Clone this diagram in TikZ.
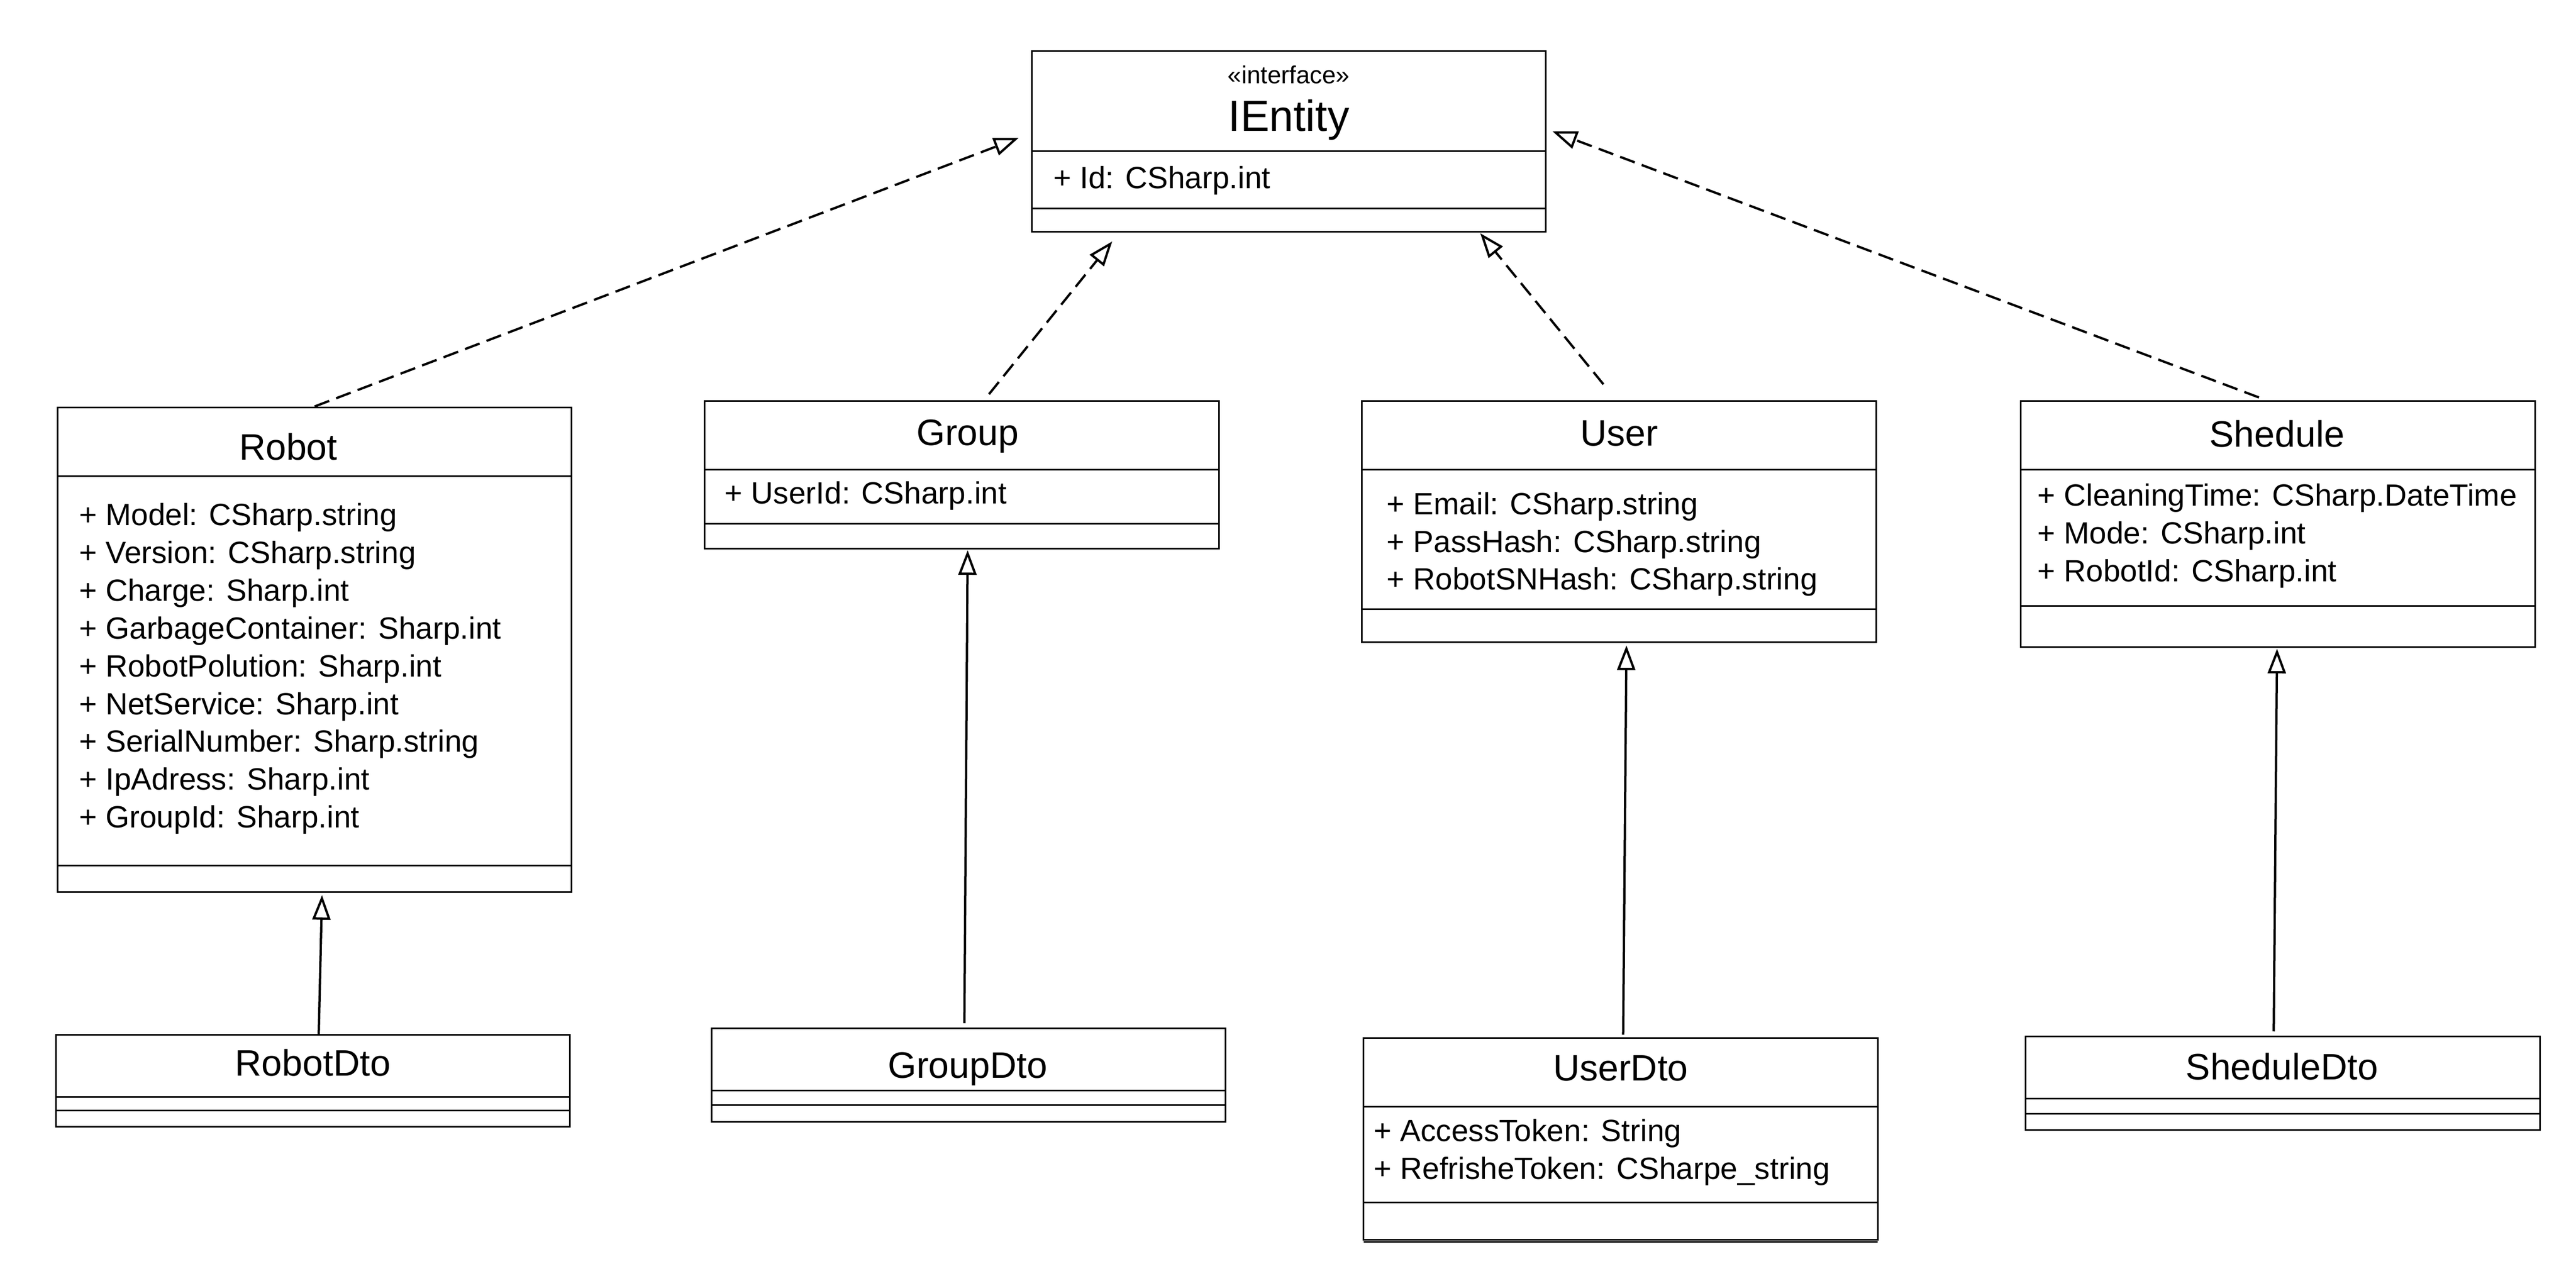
\documentclass[tikz,border=0pt]{standalone}
\usepackage{fontspec}
\setmainfont{Liberation Sans}
\usetikzlibrary{arrows.meta}
\tikzset{
  classframe/.style={draw, rectangle, line width=1pt, inner sep=0pt},
  divline/.style={line width=1pt},
  attr/.style={anchor=base west, inner sep=0pt, font=\fontsize{18.7}{23}\selectfont},
  ctitle/.style={anchor=base, inner sep=0pt, font=\fontsize{22.4}{26}\selectfont},
  realize/.style={line width=1.4pt, dash pattern=on 9.5pt off 4.5pt, -{Triangle[open, length=15pt, width=11pt]}},
  inherit/.style={line width=1.4pt, -{Triangle[open, length=15pt, width=11pt]}},
}
\newcommand\classbox[7]{%
  \node[classframe, minimum width={(#4-#2)*1pt}, minimum height={(#5-#3)*1pt}] (#1) at ({(#2+#4)/2},{(#3+#5)/2}) {};
  \draw[divline] (#2,#6) -- (#4,#6);
  \draw[divline] (#2,#7) -- (#4,#7);
}
\begin{document}
\begin{tikzpicture}[x=1pt,y=-1pt]
\fill[white] (0,0) rectangle (1568,783);
\useasboundingbox (0,0) rectangle (1568,783);

% IEntity
\classbox{ientity}{628}{31}{941}{141}{92}{127}
\node[anchor=base, inner sep=0pt, font=\fontsize{15}{18}\selectfont] (ie-st) at (784.5,50.8) {«interface»};
\node[anchor=base, inner sep=0pt, font=\fontsize{26.5}{30}\selectfont] (ie-t) at (784.5,79.7) {IEntity};
\node[attr] (ie-a1) at (641,114.6) {+ Id: CSharp.int};

% Robot
\classbox{robot}{35}{248}{348}{543}{290}{527}
\node[ctitle] (robot-t) at (175.5,280) {Robot};
\foreach \txt [count=\i] in {+ Model: CSharp.string, + Version: CSharp.string, + Charge: Sharp.int, + GarbageContainer: Sharp.int, + RobotPolution: Sharp.int, + NetService: Sharp.int, + SerialNumber: Sharp.string, + IpAdress: Sharp.int, + GroupId: Sharp.int}
  \node[attr] (robot-a\i) at (48,{320+23*(\i-1)}) {\txt};

% RobotDto
\classbox{robotdto}{34}{630}{347}{686}{668}{676}
\node[ctitle] (robotdto-t) at (190.5,655) {RobotDto};

% Group
\classbox{group}{429}{244}{742}{334}{286}{319}
\node[ctitle] (group-t) at (589,271) {Group};
\node[attr] (group-a1) at (441,306.6) {+ UserId: CSharp.int};

% GroupDto
\classbox{groupdto}{433}{626}{746}{683}{664}{673}
\node[ctitle] (groupdto-t) at (589,656.5) {GroupDto};

% User
\classbox{user}{829}{244}{1142}{391}{286}{371}
\node[ctitle] (user-t) at (985.5,271.5) {User};
\foreach \txt [count=\i] in {+ Email: CSharp.string, + PassHash: CSharp.string, + RobotSNHash: CSharp.string}
  \node[attr] (user-a\i) at (844,{313.2+23*(\i-1)}) {\txt};

% UserDto
\classbox{userdto}{830}{632}{1143}{755}{674}{732}
\draw[divline] (830,756.2) -- (1143,756.2);
\node[ctitle] (userdto-t) at (986.5,658) {UserDto};
\node[attr] (userdto-a1) at (836,695) {+ AccessToken: String};
\node[attr] (userdto-a2) at (836,718) {+ RefrisheToken: CSharpe\_string};

% Shedule
\classbox{shedule}{1230}{244}{1543}{394}{286}{369}
\node[ctitle] (shedule-t) at (1386,272) {Shedule};
\foreach \txt [count=\i] in {+ CleaningTime: CSharp.DateTime, + Mode: CSharp.int, + RobotId: CSharp.int}
  \node[attr] (shedule-a\i) at (1240,{308+23*(\i-1)}) {\txt};

% SheduleDto
\classbox{sheduledto}{1233}{631}{1546}{688}{669}{678}
\node[ctitle] (sheduledto-t) at (1389,657.5) {SheduleDto};

% connector end points
\coordinate (tip-robot) at (620,84);
\coordinate (src-group) at (602,240);
\coordinate (tip-group) at (677,147);
\coordinate (src-user) at (976,234);
\coordinate (tip-user) at (901,142);
\coordinate (src-shedule) at (1375,242);
\coordinate (tip-shedule) at (945,80);

\coordinate (src-robotdto) at (194,630);
\coordinate (tip-robotdto) at (196,545);
\coordinate (src-groupdto) at (587,623);
\coordinate (tip-groupdto) at (589,335);
\coordinate (src-userdto) at (988,630);
\coordinate (tip-userdto) at (990,393);
\coordinate (src-sheduledto) at (1384,628);
\coordinate (tip-sheduledto) at (1386,395);

% realizations
\draw[realize] (robot.north) -- (tip-robot);
\draw[realize] (src-group) -- (tip-group);
\draw[realize] (src-user) -- (tip-user);
\draw[realize] (src-shedule) -- (tip-shedule);

% generalizations
\draw[inherit] (src-robotdto) -- (tip-robotdto);
\draw[inherit] (src-groupdto) -- (tip-groupdto);
\draw[inherit] (src-userdto) -- (tip-userdto);
\draw[inherit] (src-sheduledto) -- (tip-sheduledto);
\end{tikzpicture}
\end{document}
